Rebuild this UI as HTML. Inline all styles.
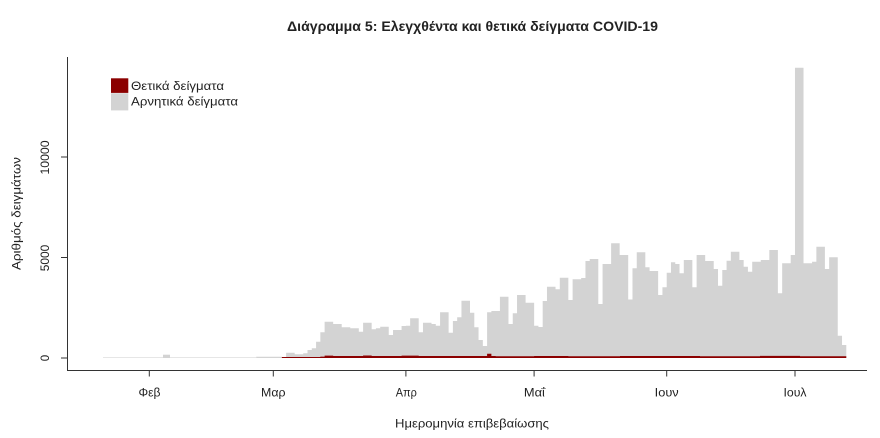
<!DOCTYPE html>
<html>
<head>
<meta charset="utf-8">
<style>
  html,body{margin:0;padding:0;background:#fff;}
  svg{display:block;}
  text{font-family:"Liberation Sans","DejaVu Sans",sans-serif;fill:#222;}
</style>
</head>
<body>
<svg width="880" height="438" viewBox="0 0 880 438" xmlns="http://www.w3.org/2000/svg">
  <rect x="0" y="0" width="880" height="438" fill="#fff"/>

  <!-- Title -->
  <text x="472.5" y="31" text-anchor="middle" font-size="13.5" font-weight="bold" textLength="371" lengthAdjust="spacingAndGlyphs">Διάγραμμα 5: Ελεγχθέντα και θετικά δείγματα COVID-19</text>

  <!-- tiny early values -->
  <rect x="103" y="357" width="153.2" height="1" fill="#e6e6e6"/>
  <rect x="163" y="354.7" width="7" height="3.3" fill="#d3d3d3"/>

  <!-- negative (gray) bars as step path -->
  <path fill="#d3d3d3" d="M256.2,358
  V356.7 H281.86 V357 H286.13 V352.7 H294.68 V354.3 H303.24 V353.3 H307.51 V350 H311.79 V348.3 H316.06
  V341.7 H320.34 V332.3 H324.62 V321.7 H333.17 V324 H341.72 V327.3 H350.27 V328.3 H358.82 V331.7 H363.10
  V322.7 H371.65 V329.3 H375.93 V328.3 H380.20 V326.7 H388.76 V335 H393.03 V330 H401.58 V326 H405.86
  V325.7 H410.14 V318.3 H418.69 V332.3 H422.96 V322.7 H431.52 V324 H435.79 V325.7 H440.07 V312.3 H448.62
  V332.7 H452.90 V321 H457.17 V317.3 H461.45 V300.7 H470.00 V312.7 H474.28 V327.3 H478.55 V340 H482.83
  V346 H487.10 V312.3 H491.38 V311 H499.93 V296.7 H508.48 V324 H512.76 V313.3 H517.04 V295 H525.59
  V302.7 H534.14 V325.7 H538.42 V327 H542.69 V301 H546.97 V286.7 H555.52 V289.3 H559.80 V277.7 H568.35
  V300 H572.62 V279.3 H581.18 V278 H585.45 V261 H589.73 V259 H598.28 V304 H602.56 V264 H611.11
  V243.3 H619.66 V255 H628.21 V299.5 H632.49 V268.3 H636.76 V252.3 H645.32 V267.3 H649.59 V271 H658.14
  V295 H662.42 V287.3 H666.70 V272.7 H670.97 V262.3 H675.25 V264 H679.52 V273.3 H683.80 V260 H692.35
  V287.3 H696.63 V255 H705.18 V261 H713.73 V269 H718.01 V285.7 H722.28 V270 H726.56 V260.7 H730.84
  V251.7 H739.39 V260 H743.66 V266.7 H747.94 V271.7 H752.22 V261.7 H760.77 V260 H769.32 V250 H777.87
  V293.3 H782.15 V263.3 H790.70 V255 H794.98 V67.7 H803.53 V263.3 H812.08 V261.7 H816.36 V246.7 H824.91
  V269 H829.18 V257.3 H837.74 V335.7 H842.01 V345 H846.29 V358 Z"/>

  <!-- positive (red) bars as step path -->
  <path fill="#8b0000" d="M281.86,358
  V357 H320.34 V356.6 H324.62 V355.6 H333.17 V356 H363.10 V355.5 H371.65 V356 H401.58 V355.6 H418.69
  V356 H487.10 V353.8 H491.38 V356 H495.66 V356.2 H534.14 V356 H568.35 V356.2 H620
  V356 H700 V356.2 H760 V355.9 H800 V356.2 H846.29 V358 Z"/>

  <!-- axes -->
  <line x1="67.5" y1="57" x2="67.5" y2="370.5" stroke="#333" stroke-width="1"/>
  <line x1="67" y1="370.5" x2="867" y2="370.5" stroke="#333" stroke-width="1"/>

  <!-- y ticks -->
  <line x1="61" y1="358" x2="67.5" y2="358" stroke="#333" stroke-width="1"/>
  <line x1="61" y1="257.5" x2="67.5" y2="257.5" stroke="#333" stroke-width="1"/>
  <line x1="61" y1="157" x2="67.5" y2="157" stroke="#333" stroke-width="1"/>

  <text transform="translate(49,358) rotate(-90)" text-anchor="middle" font-size="11.5">0</text>
  <text transform="translate(49,258) rotate(-90)" text-anchor="middle" font-size="11.5" textLength="26.5" lengthAdjust="spacingAndGlyphs">5000</text>
  <text transform="translate(49,157.5) rotate(-90)" text-anchor="middle" font-size="11.5" textLength="34" lengthAdjust="spacingAndGlyphs">10000</text>

  <text transform="translate(20.5,213.5) rotate(-90)" text-anchor="middle" font-size="12" textLength="113" lengthAdjust="spacingAndGlyphs">Αριθμός δειγμάτων</text>

  <!-- x ticks -->
  <g stroke="#333" stroke-width="1">
    <line x1="149.3" y1="370.5" x2="149.3" y2="376.5"/>
    <line x1="273.3" y1="370.5" x2="273.3" y2="376.5"/>
    <line x1="405.9" y1="370.5" x2="405.9" y2="376.5"/>
    <line x1="534.1" y1="370.5" x2="534.1" y2="376.5"/>
    <line x1="666.7" y1="370.5" x2="666.7" y2="376.5"/>
    <line x1="795" y1="370.5" x2="795" y2="376.5"/>
  </g>

  <text x="149.5" y="396.5" text-anchor="middle" font-size="11.5" textLength="22" lengthAdjust="spacingAndGlyphs">Φεβ</text>
  <text x="273.3" y="396.5" text-anchor="middle" font-size="11.5" textLength="24.5" lengthAdjust="spacingAndGlyphs">Μαρ</text>
  <text x="406.3" y="396.5" text-anchor="middle" font-size="11.5" textLength="21" lengthAdjust="spacingAndGlyphs">Απρ</text>
  <text x="534.4" y="396.5" text-anchor="middle" font-size="11.5" textLength="21" lengthAdjust="spacingAndGlyphs">Μαΐ</text>
  <text x="666.7" y="396.5" text-anchor="middle" font-size="11.5" textLength="24" lengthAdjust="spacingAndGlyphs">Ιουν</text>
  <text x="795" y="396.5" text-anchor="middle" font-size="11.5" textLength="23" lengthAdjust="spacingAndGlyphs">Ιουλ</text>

  <text x="472" y="427.3" text-anchor="middle" font-size="12" textLength="154" lengthAdjust="spacingAndGlyphs">Ημερομηνία επιβεβαίωσης</text>

  <!-- legend -->
  <rect x="111" y="78.3" width="17.3" height="14.6" fill="#8b0000"/>
  <rect x="111" y="93.2" width="17.3" height="17.2" fill="#d3d3d3"/>
  <text x="131" y="90" font-size="12" textLength="93" lengthAdjust="spacingAndGlyphs">Θετικά δείγματα</text>
  <text x="131" y="105.7" font-size="12" textLength="107" lengthAdjust="spacingAndGlyphs">Αρνητικά δείγματα</text>
</svg>
</body>
</html>
